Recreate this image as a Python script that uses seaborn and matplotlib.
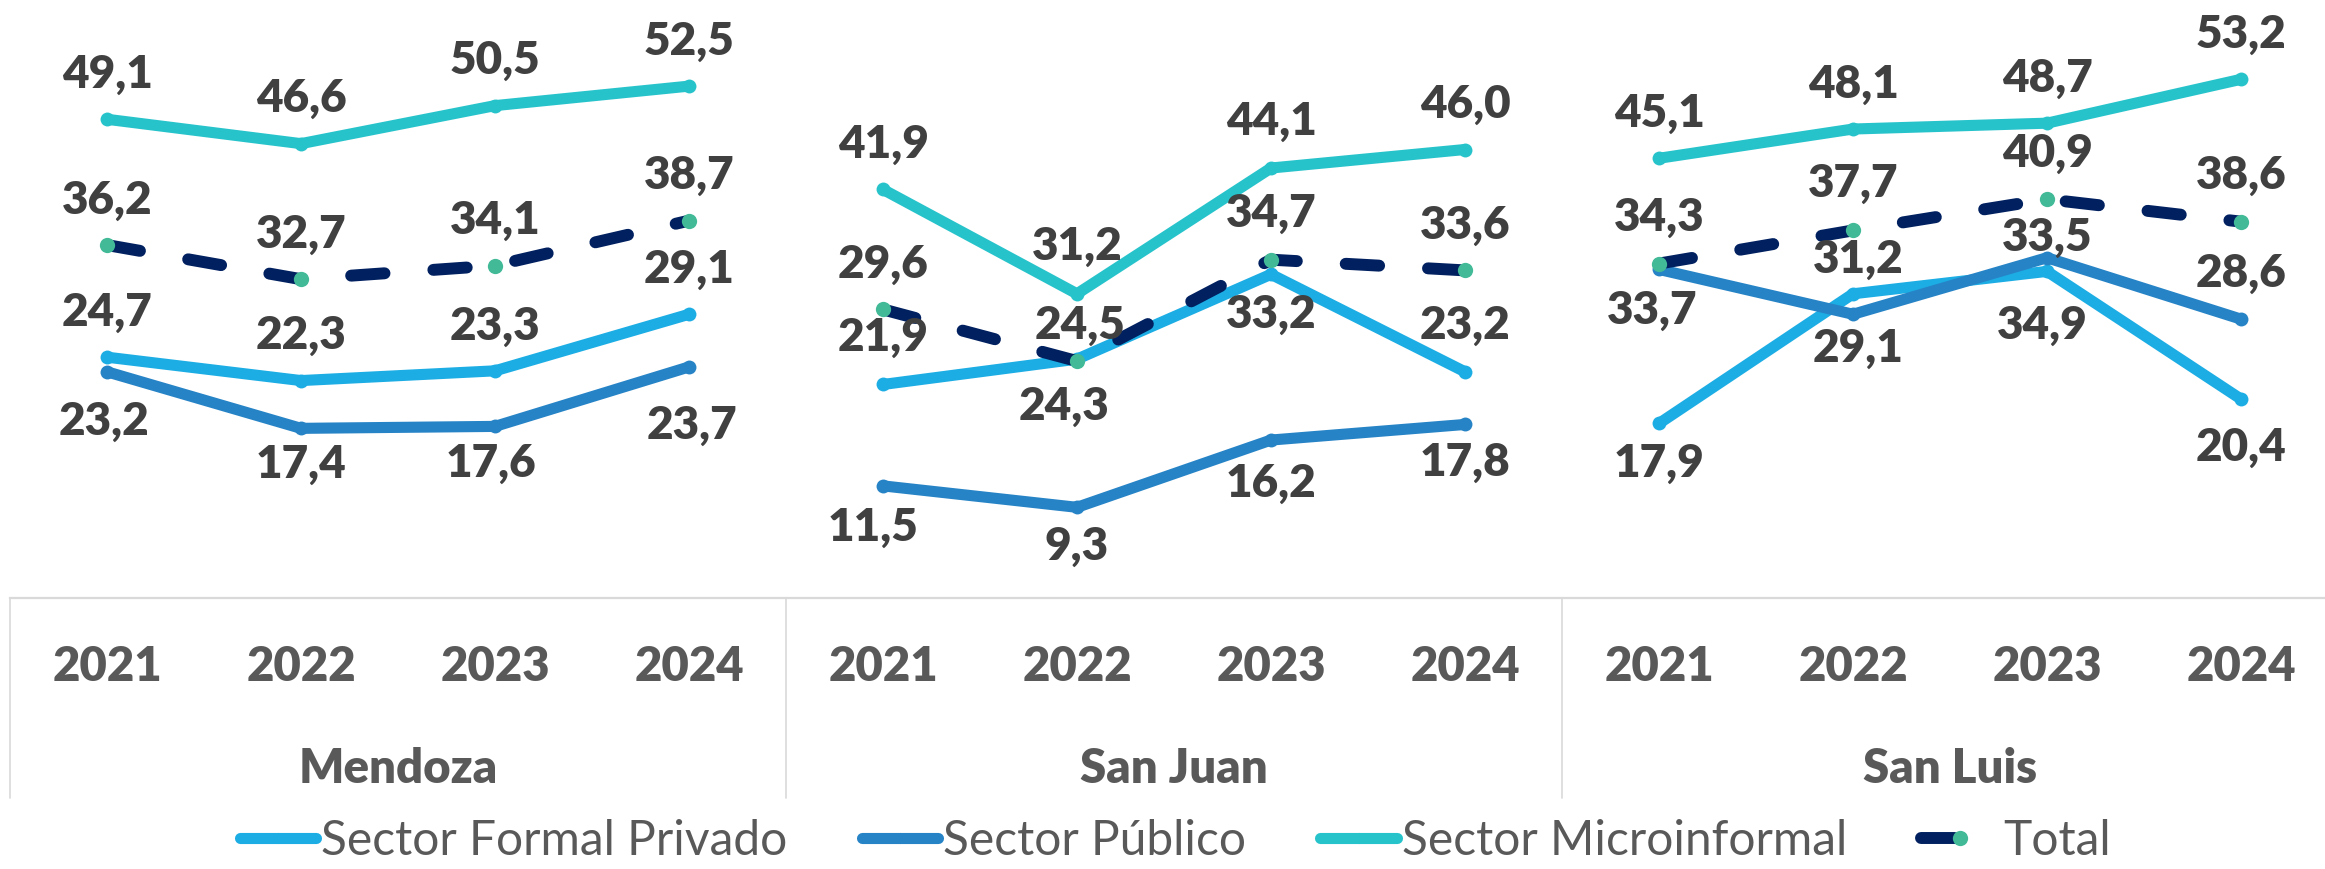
import numpy as np
import pandas as pd
import matplotlib
matplotlib.use('Agg')
import matplotlib.pyplot as plt
import matplotlib.transforms as mtransforms
from matplotlib.lines import Line2D
import seaborn as sns

# ---------------- data ----------------
provincias = ['Mendoza', 'San Juan', 'San Luis']
anios = ['2021', '2022', '2023', '2024']
series = ['Sector Formal Privado', 'Sector Público', 'Sector Microinformal', 'Total']

formal_privado = [24.7, 22.3, 23.3, 29.1, 21.9, 24.5, 33.2, 23.2, 17.9, 31.2, 33.5, 20.4]
sector_publico = [23.2, 17.4, 17.6, 23.7, 11.5, 9.3, 16.2, 17.8, 33.7, 29.1, 34.9, 28.6]
microinformal = [49.1, 46.6, 50.5, 52.5, 41.9, 31.2, 44.1, 46.0, 45.1, 48.1, 48.7, 53.2]
total = [36.2, 32.7, 34.1, 38.7, 29.6, 24.3, 34.7, 33.6, 34.3, 37.7, 40.9, 38.6]

valores = {
    'Sector Formal Privado': formal_privado,
    'Sector Público': sector_publico,
    'Sector Microinformal': microinformal,
    'Total': total,
}

rows = []
for s in series:
    for i, v in enumerate(valores[s]):
        rows.append({'serie': s, 'provincia': provincias[i // 4], 'anio': anios[i % 4],
                     'pos': i, 'valor': v})
df = pd.DataFrame(rows)

# ---------------- style / layout ----------------
colores = {
    'Sector Formal Privado': '#1CADE4',
    'Sector Público': '#2683C6',
    'Sector Microinformal': '#27C3CB',
    'Total': '#002060',
}
marcador_total = '#42BA97'
LW = 8.0
LW_TOT = 8.6
DASH = (2.8, 4.1)

# label offsets in pixels (dx, dy), dy positive = upward, relative to label cap centre
UP = 48
offsets = {
    'Sector Formal Privado': [(0, UP)] * 4 + [(0, 50), (3, 37), (0, -37), (0, 49)]
                             + [(0, -37), (5, 37), (0, 37), (0, -45)],
    'Sector Público': [(-3, -47), (0, -33), (-4, -34), (3, -55)]
                      + [(-10, -38), (0, -36), (0, -40), (0, -35)]
                      + [(-7, -38), (5, -31), (-5, -65), (0, 49)],
    'Sector Microinformal': [(0, UP)] * 4 + [(0, 48), (0, 50), (0, 50), (0, 48)] + [(0, UP)] * 4,
    'Total': [(0, UP)] * 4 + [(0, 48), (-13, -42), (0, 49), (0, 48)] + [(0, 49), (0, 50), (0, 49), (0, 49)],
}

W, H = 2325, 869
sns.set_theme(style='white')
plt.rcParams['font.family'] = ['Lato', 'DejaVu Sans']

fig = plt.figure(figsize=(W / 100, H / 100), dpi=100)
ax_bottom_px, ax_top_px = 598, 13
ax = fig.add_axes([10 / W, (H - ax_bottom_px) / H, 2328 / W, (ax_bottom_px - ax_top_px) / H])

for s in series:
    for p in provincias:
        sub = df[(df['serie'] == s) & (df['provincia'] == p)]
        n_before = len(ax.lines)
        if s == 'Total':
            sns.lineplot(data=sub, x='pos', y='valor', ax=ax, color=colores[s], linewidth=LW_TOT,
                         marker='o', markersize=11, markeredgewidth=0, estimator=None,
                         legend=False, sort=False)
            ln = ax.lines[n_before]
            ln.set_dashes(DASH)
            ln.set_dash_capstyle('round')
            ln.set_markerfacecolor(marcador_total)
            ln.set_markeredgecolor(marcador_total)
        else:
            sns.lineplot(data=sub, x='pos', y='valor', ax=ax, color=colores[s], linewidth=LW,
                         marker='o', markersize=10, markeredgewidth=0, estimator=None,
                         legend=False, sort=False)
            ln = ax.lines[n_before]
            ln.set_solid_capstyle('round')
            ln.set_solid_joinstyle('round')
            ln.set_markerfacecolor(colores[s])

FS_LAB = 33
cap_half = 0.36 * FS_LAB * 100 / 72
for s in series:
    for i, v in enumerate(valores[s]):
        dx, dy = offsets[s][i]
        ax.annotate(f"{v:.1f}".replace('.', ','), xy=(i, v), xytext=(dx, dy - cap_half),
                    textcoords='offset pixels', ha='center', va='baseline',
                    fontsize=FS_LAB, fontweight='heavy', color='#404040', zorder=10,
                    annotation_clip=False)

ax.set_xlim(-0.5, 11.5)
ax.set_ylim(0, 60)
ax.set_xticks([])
ax.set_yticks([])
ax.set_xlabel('')
ax.set_ylabel('')
for sp in ['left', 'right', 'top']:
    ax.spines[sp].set_visible(False)
ax.spines['bottom'].set_color('#D9D9D9')
ax.spines['bottom'].set_linewidth(1.6)
ax.patch.set_alpha(0)

trans = mtransforms.blended_transform_factory(ax.transData, fig.transFigure)
for i in range(12):
    fig.text(i, 1 - 681 / H, anios[i % 4], transform=trans, ha='center', va='baseline',
             fontsize=34, fontweight='heavy', color='#595959')
for k, p in enumerate(provincias):
    fig.text(k * 4 + 1.5, 1 - 783 / H, p, transform=trans, ha='center', va='baseline',
             fontsize=34, fontweight='heavy', color='#595959')
for x in [-0.5, 3.5, 7.5, 11.5]:
    fig.add_artist(Line2D([x, x], [1 - 598 / H, 1 - 798 / H], transform=trans,
                          color='#D9D9D9', linewidth=1.2, clip_on=False))

handles = []
for s in series:
    if s == 'Total':
        h = Line2D([], [], color=colores[s], linewidth=LW_TOT, dashes=DASH, dash_capstyle='round',
                   marker='o', markersize=11, markerfacecolor=marcador_total,
                   markeredgecolor=marcador_total, markeredgewidth=0)
    else:
        h = Line2D([], [], color=colores[s], linewidth=LW, solid_capstyle='round',
                   marker='o', markersize=8, markerfacecolor=colores[s], markeredgewidth=0)
    handles.append(h)
fig.legend(handles, series, loc='center', bbox_to_anchor=(1175 / W, 1 - 841 / H), ncol=4,
           frameon=False, fontsize=34.5, handlelength=1.6, handletextpad=0.1,
           columnspacing=1.55, labelcolor='#595959', borderpad=0, borderaxespad=0)

fig.savefig('out.png', dpi=100)
